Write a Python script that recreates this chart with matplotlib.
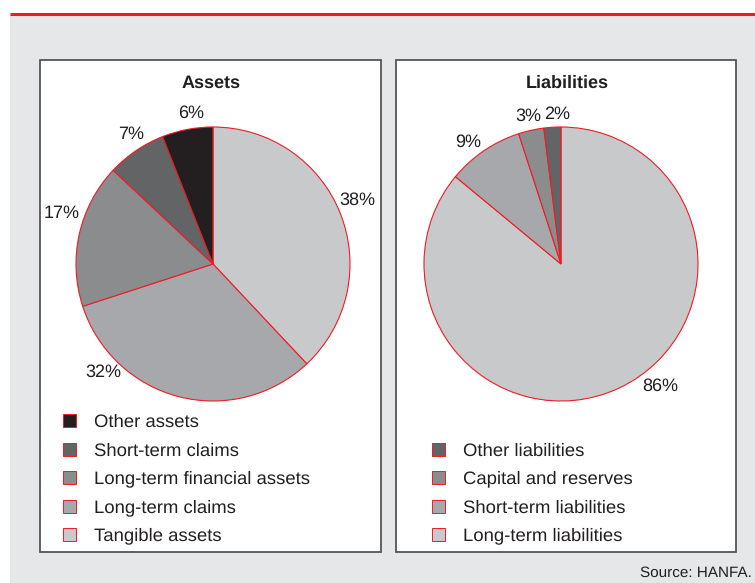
import matplotlib
matplotlib.use("Agg")
import matplotlib.pyplot as plt
from matplotlib.patches import Rectangle

plt.rcParams['font.family'] = ['Liberation Sans', 'DejaVu Sans']
plt.rcParams['text.hinting'] = 'no_hinting'

# data
asset_labels = ['Tangible assets', 'Long-term claims', 'Long-term financial assets',
                'Short-term claims', 'Other assets']
asset_values = [38, 32, 17, 7, 6]
liab_labels = ['Long-term liabilities', 'Short-term liabilities', 'Capital and reserves',
               'Other liabilities']
liab_values = [86, 9, 3, 2]

# colours (same order as values)
asset_colors = ['#c8c9cb', '#a7a8ab', '#8b8c8e', '#636466', '#231f20']
liab_colors = ['#c8c9cb', '#a7a8ab', '#8b8c8e', '#636466']
RED = '#ed1c24'
TXT = '#231f20'

# label positions in pixels (x, y from top)
asset_lbl_pos = [(357, 200), (103, 372), (62, 213), (131, 134), (191, 113)]
liab_lbl_pos = [(660, 386), (468, 142), (528, 116), (557, 114)]

W, H = 755, 583
fig = plt.figure(figsize=(W / 100, H / 100), dpi=100)
ax = fig.add_axes([0, 0, 1, 1])


def Y(y):
    return H - y


# background + red rule
ax.add_patch(Rectangle((10, 0), W - 10, Y(15), facecolor='#e6e7e8', edgecolor='none', zorder=0))
ax.plot([10, W], [Y(14), Y(14)], color=RED, lw=2.2, zorder=1, solid_capstyle='butt')

# panels
for x0, x1 in [(40, 381), (396, 736)]:
    ax.add_patch(Rectangle((x0, Y(552)), x1 - x0, 552 - 60, facecolor='white',
                           edgecolor='#555555', lw=1.3, zorder=1))


def draw_pie(values, colors, center, lbl_pos, title, tx):
    ax.pie(values, colors=colors, center=(center[0], Y(center[1])), radius=137,
           startangle=90, counterclock=False, frame=True,
           wedgeprops=dict(edgecolor=RED, linewidth=0.8, zorder=2))
    for v, (px, py) in zip(values, lbl_pos):
        ax.text(px, Y(py), f'{v}%', ha='center', va='center', fontsize=13, color=TXT, zorder=3)
    ax.text(tx, Y(83), title, ha='center', va='center', fontsize=13,
            fontweight='bold', color=TXT, zorder=3)


draw_pie(asset_values, asset_colors, (213, 264), asset_lbl_pos, 'Assets', 211)
draw_pie(liab_values, liab_colors, (561, 264), liab_lbl_pos, 'Liabilities', 567)
ax.set_xlim(0, W)
ax.set_ylim(0, H)
ax.set_aspect('equal')
ax.axis('off')

# legends (listed reversed, darkest first)
rows = [420, 449, 477, 506, 534]


def draw_legend(labels, colors, sx, tx, rows_used):
    for lab, col, ry in zip(labels[::-1], colors[::-1], rows_used):
        ax.add_patch(Rectangle((sx, Y(ry + 7)), 13, 13, facecolor=col, edgecolor=RED,
                               lw=0.7, zorder=3))
        ax.text(tx, Y(ry + 6.5), lab, ha='left', va='baseline', fontsize=13.3,
                color=TXT, zorder=3)


draw_legend(asset_labels, asset_colors, 63, 94, rows)
draw_legend(liab_labels, liab_colors, 432, 463, rows[1:])

ax.text(752, Y(577), 'Source: HANFA.', ha='right', va='baseline', fontsize=11, color=TXT)

fig.savefig('out.png', dpi=100)
